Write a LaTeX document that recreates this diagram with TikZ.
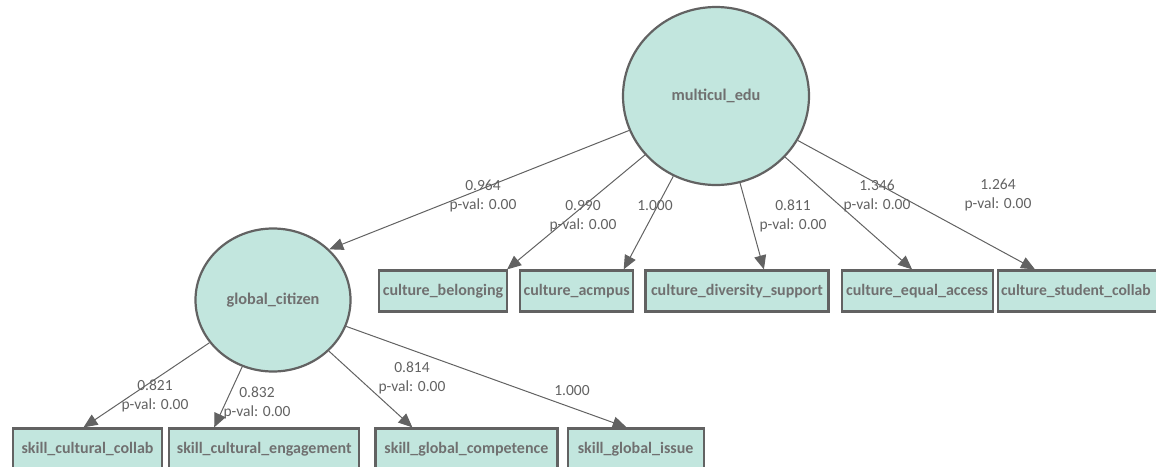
\documentclass[tikz,border=0pt]{standalone}
\usepackage{fontspec}
\setmainfont{Carlito}
\definecolor{semfill}{RGB}{194,230,222}
\definecolor{semline}{RGB}{98,98,98}
\definecolor{semtext}{RGB}{112,112,112}
\usetikzlibrary{arrows.meta,positioning,shapes.geometric}

\begin{document}
\begin{tikzpicture}[x=1pt,y=-1pt,
    latent/.style={ellipse,draw=semline,line width=2.2pt,fill=semfill,text=semtext,
                   font=\bfseries\fontsize{16.3}{19}\selectfont,inner sep=0pt},
    indic/.style={draw=semline,line width=2.2pt,fill=semfill,text=semtext,
                  font=\bfseries\fontsize{16}{19}\selectfont,minimum height=41pt,inner sep=0pt},
    load/.style={-{Triangle[length=14pt,width=12pt]},semline,line width=1pt},
    coef/.style={text=semline,align=center,font=\fontsize{15.5}{19.5}\selectfont,inner sep=0pt}]
  \useasboundingbox (0,0) rectangle (1156,466);
  \node[latent,minimum width=186pt,minimum height=178pt] (multi) at (716,96) {multicul\_edu};
  \node[latent,minimum width=155pt,minimum height=143pt] (glob) at (273,300) {global\_citizen};
  % culture indicators
  \node[indic,minimum width=128pt] (bel) at (443,291) {culture\_belonging};
  \node[indic,minimum width=113pt,right=11pt of bel] (acm) {culture\_acmpus};
  \node[indic,minimum width=183pt,right=10pt of acm] (div) {culture\_diversity\_support};
  \node[indic,minimum width=151pt,right=11pt of div] (eq) {culture\_equal\_access};
  \node[indic,inner xsep=3pt,font=\bfseries\fontsize{15.6}{19}\selectfont,
        text width=160pt,align=left,anchor=west] (stu) at (997,291) {culture\_student\_collab};
  % skill indicators
  \node[indic,minimum width=149pt] (coll) at (87.5,449) {skill\_cultural\_collab};
  \node[indic,minimum width=190pt,right=5pt of coll] (eng) {skill\_cultural\_engagement};
  \node[indic,minimum width=182pt,right=14pt of eng] (comp) {skill\_global\_competence};
  \node[indic,minimum width=136pt,right=8pt of comp] (iss) {skill\_global\_issue};
  % loadings
  \draw[load] (multi) -- (glob.42);
  \draw[load] (multi) -- ([xshift=-1pt]bel.north east);
  \draw[load] (multi) -- ([xshift=47pt]acm.north);
  \draw[load] (multi) -- ([xshift=27pt]div.north);
  \draw[load] (multi) -- ([xshift=-5pt]eq.north);
  \draw[load] (multi) -- ([xshift=38pt]stu.north west);
  \draw[load] (glob) -- ([xshift=-4pt]coll.north);
  \draw[load] (glob) -- ([xshift=-50pt]eng.north);
  \draw[load] (glob) -- ([xshift=-54pt]comp.north);
  \draw[load] (glob) -- ([xshift=-9pt]iss.north);
  % coefficients
  \node[coef] (c964) at (483,196) {0.964\\p-val: 0.00};
  \node[coef] (c990) at (583,216) {0.990\\p-val: 0.00};
  \node[coef] (c1000a) at (655,206) {1.000};
  \node[coef] (c811) at (793,216) {0.811\\p-val: 0.00};
  \node[coef] (c1346) at (877,196) {1.346\\p-val: 0.00};
  \node[coef] (c1264) at (998,195) {1.264\\p-val: 0.00};
  \node[coef] (c821) at (155,396) {0.821\\p-val: 0.00};
  \node[coef] (c832) at (257,403) {0.832\\p-val: 0.00};
  \node[coef] (c814) at (412,378) {0.814\\p-val: 0.00};
  \node[coef] (c1000b) at (572,391) {1.000};
\end{tikzpicture}
\end{document}
